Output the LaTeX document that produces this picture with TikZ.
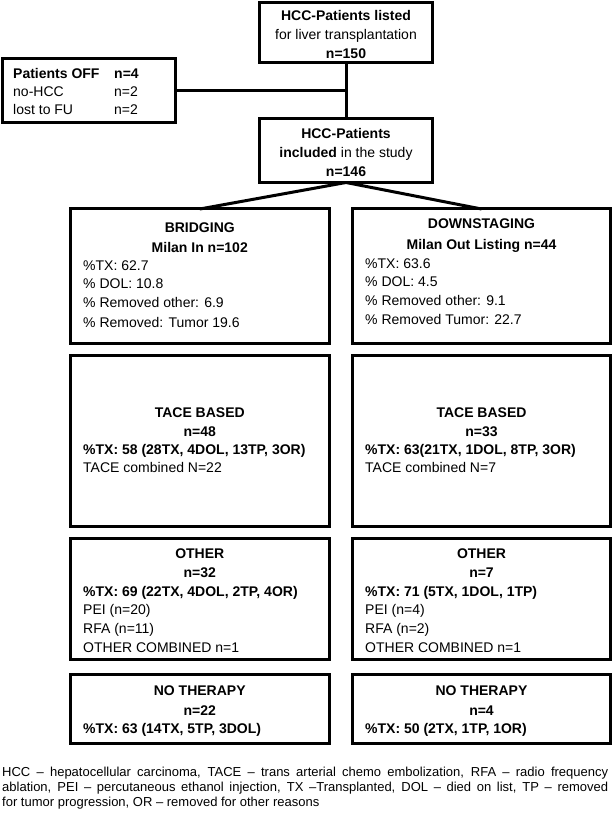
\documentclass[tikz,border=0pt]{standalone}
\usepackage{fontspec}
\setmainfont{Liberation Sans}
\begin{document}
\begin{tikzpicture}[x=1pt,y=-1pt,
  box/.style={draw, line width=3pt, inner sep=0pt, outer sep=0pt, rectangle},
  conn/.style={line width=3pt},
  tx/.style={anchor=base, inner sep=0pt, font=\fontsize{14}{16}\selectfont},
  txb/.style={tx, font=\fontsize{14}{16}\selectfont\bfseries},
  txl/.style={tx, anchor=base west},
  txlb/.style={txb, anchor=base west},
  fn/.style={anchor=base west, inner sep=0pt, font=\fontsize{13}{15}\selectfont}
]
\useasboundingbox (0,0) rectangle (612,818);
% boxes
\node[box, minimum width=173pt, minimum height=60.5pt] (top) at (346,32.75) {};
\node[box, minimum width=173pt, minimum height=64pt] (off) at (89,91) {};
\node[box, minimum width=173pt, minimum height=63.5pt] (inc) at (346,150.75) {};
\node[box, minimum width=258.5pt, minimum height=134pt] (bri) at (199.75,276) {};
\node[box, minimum width=258pt, minimum height=134pt] (dow) at (481.5,276) {};
\node[box, minimum width=258.5pt, minimum height=171pt] (tl) at (199.75,440.5) {};
\node[box, minimum width=258pt, minimum height=171pt] (tr) at (481.5,440.5) {};
\node[box, minimum width=258.5pt, minimum height=121pt] (ol) at (199.75,598.5) {};
\node[box, minimum width=258pt, minimum height=121pt] (or) at (481.5,598.5) {};
\node[box, minimum width=258.5pt, minimum height=69pt] (nl) at (199.75,708.5) {};
\node[box, minimum width=258pt, minimum height=69pt] (nr) at (481.5,708.5) {};
% connectors
\draw[conn] (top.south) -- (inc.north);
\draw[conn] (off.east) -- (off.east -| top.south);
\draw[conn] (inc.south) -- (bri.north);
\draw[conn] (inc.south) -- (dow.north);
% top box
\node[txb] (a1) at (346,21) {HCC-Patients listed};
\node[tx] (a2) at (346,40) {for liver transplantation};
\node[txb] (a3) at (346,59) {n=150};
% off box
\node[txlb] (b1) at (13,79) {Patients OFF};
\node[txlb] (b2) at (114,79) {n=4};
\node[txl] (b3) at (13,97) {no-HCC};
\node[txl] (b4) at (114,97) {n=2};
\node[txl] (b5) at (13,115) {lost to FU};
\node[txl] (b6) at (114,115) {n=2};
% included box
\node[txb] (c1) at (346,139) {HCC-Patients};
\node[tx] (c2) at (346,158) {\textbf{included} in the study};
\node[txb] (c3) at (346,177) {n=146};
% bridging
\node[txb] (d1) at (199.75,233) {BRIDGING};
\node[txb] (d2) at (199.75,252) {Milan In n=102};
\node[txl] (d3) at (83,270) {\%TX: 62.7};
\node[txl] (d4) at (83,288) {\% DOL: 10.8};
\node[txl] (d5) at (83,307) {\% Removed other: 6.9};
\node[txl] (d6) at (83,327) {\% Removed: Tumor 19.6};
% downstaging
\node[txb] (e1) at (481.5,229) {DOWNSTAGING};
\node[txb] (e2) at (481.5,249) {Milan Out Listing n=44};
\node[txl] (e3) at (365,268) {\%TX: 63.6};
\node[txl] (e4) at (365,286) {\% DOL: 4.5};
\node[txl] (e5) at (365,305) {\% Removed other: 9.1};
\node[txl] (e6) at (365,324) {\% Removed Tumor: 22.7};
% TACE left
\node[txb] (f1) at (199.75,417) {TACE BASED};
\node[txb] (f2) at (199.75,436) {n=48};
\node[txlb] (f3) at (83,454.5) {\%TX: 58 (28TX, 4DOL, 13TP, 3OR)};
\node[txl] (f4) at (83,472) {TACE combined N=22};
% TACE right
\node[txb] (g1) at (481.5,417) {TACE BASED};
\node[txb] (g2) at (481.5,436) {n=33};
\node[txlb] (g3) at (365,454.5) {\%TX: 63(21TX, 1DOL, 8TP, 3OR)};
\node[txl] (g4) at (365,472) {TACE combined N=7};
% OTHER left
\node[txb] (h1) at (199.75,558) {OTHER};
\node[txb] (h2) at (199.75,577) {n=32};
\node[txlb] (h3) at (83,596) {\%TX: 69 (22TX, 4DOL, 2TP, 4OR)};
\node[txl] (h4) at (83,614) {PEI (n=20)};
\node[txl] (h5) at (83,633) {RFA (n=11)};
\node[txl] (h6) at (83,652) {OTHER COMBINED n=1};
% OTHER right
\node[txb] (i1) at (481.5,558) {OTHER};
\node[txb] (i2) at (481.5,577) {n=7};
\node[txlb] (i3) at (365,596) {\%TX: 71 (5TX, 1DOL, 1TP)};
\node[txl] (i4) at (365,614) {PEI (n=4)};
\node[txl] (i5) at (365,633) {RFA (n=2)};
\node[txl] (i6) at (365,652) {OTHER COMBINED n=1};
% NO THERAPY
\node[txb] (j1) at (199.75,695) {NO THERAPY};
\node[txb] (j2) at (199.75,715) {n=22};
\node[txlb] (j3) at (83,733) {\%TX: 63 (14TX, 5TP, 3DOL)};
\node[txb] (k1) at (481.5,695) {NO THERAPY};
\node[txb] (k2) at (481.5,715) {n=4};
\node[txlb] (k3) at (365,733) {\%TX: 50 (2TX, 1TP, 1OR)};
% footnote
\node[fn] (m1) at (2,776.3) {\makebox[606pt][s]{HCC – hepatocellular carcinoma, TACE – trans arterial chemo embolization, RFA – radio frequency}};
\node[fn] (m2) at (2,791.3) {\makebox[606pt][s]{ablation, PEI – percutaneous ethanol injection, TX –Transplanted, DOL – died on list, TP – removed}};
\node[fn] (m3) at (2,806.3) {for tumor progression, OR – removed for other reasons};
\end{tikzpicture}
\end{document}
